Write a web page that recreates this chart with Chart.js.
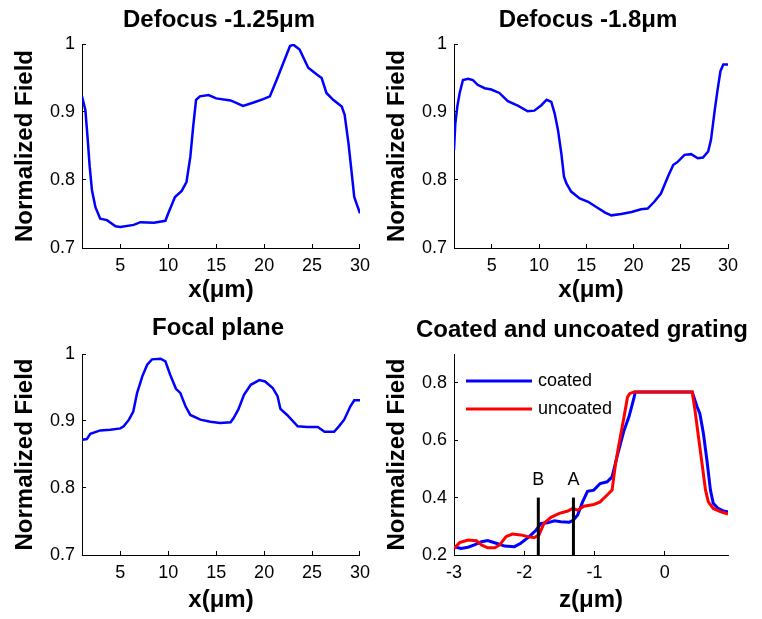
<!DOCTYPE html>
<html>
<head>
<meta charset="utf-8">
<script src="https://cdn.jsdelivr.net/npm/chart.js@4.4.1/dist/chart.umd.min.js"></script>
<style>
  body { margin: 0; background: #fff; }
  #wrap { position: relative; width: 762px; height: 619px; }
  canvas { position: absolute; }
</style>
</head>
<body>
<div id="wrap">
  <canvas id="c1" width="381" height="310" style="left:0;top:0"></canvas>
  <canvas id="c2" width="381" height="310" style="left:381px;top:0"></canvas>
  <canvas id="c3" width="381" height="309" style="left:0;top:310px"></canvas>
  <canvas id="c4" width="381" height="309" style="left:381px;top:310px"></canvas>
</div>
<script>
// Defocus -1.25um
const defocus125X = [1, 1.35, 1.6, 1.8, 2.04, 2.4, 2.9, 3.6, 4.5, 5, 6.4, 7.1, 8.5, 9.7, 10, 10.7, 11.4, 11.9, 12.3, 12.6, 12.9, 13.3, 14.2, 15, 16.5, 17.8, 18.9, 19.9, 20.6, 21.3, 22, 22.7, 23.05, 23.7, 24.6, 25.5, 26, 26.5, 27.2, 28.1, 28.4, 28.8, 29.1, 29.4, 29.65, 30];
const defocus125Y = [0.923, 0.903, 0.859, 0.82, 0.785, 0.76, 0.743, 0.741, 0.732, 0.731, 0.734, 0.738, 0.737, 0.74, 0.751, 0.775, 0.784, 0.797, 0.834, 0.879, 0.918, 0.923, 0.925, 0.92, 0.917, 0.909, 0.914, 0.919, 0.923, 0.947, 0.972, 0.997, 0.999, 0.992, 0.965, 0.955, 0.95, 0.928, 0.918, 0.908, 0.896, 0.854, 0.815, 0.775, 0.765, 0.751];

// Defocus -1.8um
const defocus18X = [1, 1.14, 1.35, 1.6, 1.95, 2.5, 3, 3.5, 4.25, 4.95, 5.8, 6.7, 7.8, 8.8, 9.5, 10.25, 10.8, 11.3, 11.65, 12, 12.36, 12.64, 12.9, 13.4, 14.3, 15.2, 16.1, 17, 17.65, 18.7, 19.8, 20.8, 21.5, 22.2, 22.9, 23.65, 24.2, 24.7, 25.4, 26.1, 26.8, 27.35, 27.9, 28.2, 28.6, 28.9, 29.2, 29.5, 30];
const defocus18Y = [0.844, 0.883, 0.908, 0.928, 0.947, 0.949, 0.947, 0.94, 0.935, 0.933, 0.928, 0.916, 0.909, 0.901, 0.902, 0.91, 0.918, 0.915, 0.898, 0.874, 0.839, 0.805, 0.795, 0.783, 0.773, 0.768, 0.76, 0.752, 0.748, 0.75, 0.753, 0.757, 0.758, 0.768, 0.78, 0.805, 0.822, 0.827, 0.837, 0.838, 0.832, 0.833, 0.842, 0.859, 0.903, 0.933, 0.96, 0.97, 0.97];

// Focal plane
const focalX = [1, 1.5, 1.87, 2.9, 3.95, 5, 5.35, 5.9, 6.35, 6.75, 7.3, 7.8, 8.3, 9.2, 9.7, 10.2, 10.8, 11.25, 11.8, 12.3, 13.35, 14.4, 15.4, 16.5, 16.8, 17.3, 17.9, 18.6, 19.5, 20.1, 20.9, 21.4, 21.7, 22.4, 23.5, 24.5, 25.6, 26.3, 27.3, 27.8, 28.35, 29, 29.4, 30];
const focalY = [0.872, 0.873, 0.881, 0.886, 0.887, 0.889, 0.892, 0.902, 0.914, 0.942, 0.967, 0.984, 0.992, 0.993, 0.989, 0.969, 0.948, 0.942, 0.922, 0.909, 0.902, 0.899, 0.897, 0.898, 0.904, 0.917, 0.939, 0.954, 0.961, 0.959, 0.949, 0.937, 0.918, 0.909, 0.892, 0.891, 0.891, 0.884, 0.884, 0.892, 0.902, 0.922, 0.931, 0.931];

// Coated and uncoated grating
const coatedZ = [-3, -2.9, -2.8, -2.71, -2.61, -2.52, -2.4, -2.28, -2.14, -2.05, -1.93, -1.83, -1.76, -1.67, -1.57, -1.48, -1.36, -1.3, -1.24, -1.17, -1.1, -1.01, -0.92, -0.82, -0.75, -0.68, -0.58, -0.51, -0.44, -0.42, 0.39, 0.46, 0.5, 0.55, 0.6, 0.65, 0.69, 0.76, 0.84, 0.9];
const coatedY = [0.229, 0.223, 0.227, 0.235, 0.246, 0.25, 0.241, 0.231, 0.229, 0.241, 0.264, 0.287, 0.31, 0.312, 0.319, 0.316, 0.314, 0.322, 0.339, 0.385, 0.422, 0.426, 0.449, 0.455, 0.472, 0.542, 0.634, 0.681, 0.745, 0.768, 0.768, 0.716, 0.692, 0.623, 0.53, 0.426, 0.38, 0.362, 0.353, 0.351];
const uncoatedZ = [-3, -2.92, -2.8, -2.68, -2.61, -2.52, -2.42, -2.35, -2.26, -2.17, -2.05, -1.95, -1.86, -1.79, -1.72, -1.62, -1.5, -1.38, -1.31, -1.24, -1.15, -1.01, -0.92, -0.82, -0.75, -0.7, -0.65, -0.58, -0.53, -0.5, -0.44, 0.39, 0.43, 0.48, 0.53, 0.58, 0.62, 0.69, 0.79, 0.9];
const uncoatedY = [0.223, 0.243, 0.252, 0.25, 0.235, 0.225, 0.225, 0.235, 0.264, 0.273, 0.27, 0.264, 0.26, 0.27, 0.31, 0.331, 0.345, 0.353, 0.362, 0.356, 0.37, 0.376, 0.385, 0.409, 0.426, 0.519, 0.588, 0.681, 0.75, 0.762, 0.768, 0.768, 0.704, 0.611, 0.519, 0.426, 0.385, 0.362, 0.351, 0.343];

// Marker lines A and B
const markerZ = [-1.8, -1.3];
const markerNames = ['B', 'A'];
const markerRange = [0.2, 0.4];
const markerTextY = 0.46;
const legendNames = ['coated', 'uncoated'];

const FONT = 'Arial, "Liberation Sans", Helvetica, sans-serif';
Chart.defaults.font.family = FONT;
Chart.defaults.color = '#000';

function toPoints(xs, ys) {
    return xs.map((x, i) => ({ x: x, y: ys[i] }));
}

function tickText(v) {
    return String(parseFloat(v.toFixed(2)));
}

// Panel title, centred over the plot area (may run past it on the right)
const panelTitlePlugin = {
    id: 'panelTitle',
    afterDraw(chart, args, opts) {
        const area = chart.chartArea;
        const ctx = chart.ctx;
        ctx.save();
        ctx.font = 'bold 24px ' + FONT;
        ctx.fillStyle = '#000';
        ctx.textAlign = 'center';
        ctx.textBaseline = 'alphabetic';
        ctx.fillText(opts.text, (area.left + area.right) / 2 + opts.dx, opts.baseline);
        ctx.restore();
    }
};

// Legend and A/B labels drawn inside the grating plot
const insideTextPlugin = {
    id: 'insideText',
    afterDatasetsDraw(chart, args, opts) {
        if (!opts.show) return;
        const area = chart.chartArea;
        const ctx = chart.ctx;
        const xs = chart.scales.x;
        const ys = chart.scales.y;
        ctx.save();
        ctx.font = '18px ' + FONT;
        ctx.fillStyle = '#000';
        ctx.textBaseline = 'middle';
        ctx.textAlign = 'center';
        markerZ.forEach((z, i) => {
            ctx.fillText(markerNames[i], xs.getPixelForValue(z), ys.getPixelForValue(markerTextY));
        });
        ctx.textAlign = 'left';
        legendNames.forEach((name, i) => {
            const ds = chart.data.datasets.find(d => d.label === name);
            const ly = area.top + 27 + i * 28;
            ctx.strokeStyle = ds.borderColor;
            ctx.lineWidth = 3;
            ctx.beginPath();
            ctx.moveTo(area.left + 12, ly);
            ctx.lineTo(area.left + 78, ly);
            ctx.stroke();
            ctx.fillText(name, area.left + 84, ly);
        });
        ctx.restore();
    }
};

function makePanel(id, datasets, cfg) {
    const ctx = document.getElementById(id).getContext('2d');
    return new Chart(ctx, {
        type: 'line',
        data: { datasets: datasets },
        plugins: [panelTitlePlugin, insideTextPlugin],
        options: {
            responsive: false,
            animation: false,
            layout: { padding: { left: 0, right: cfg.padRight, top: 44, bottom: 0 } },
            elements: { point: { radius: 0 }, line: { tension: 0 } },
            plugins: {
                legend: { display: false },
                tooltip: { enabled: false },
                title: { display: false },
                panelTitle: { text: cfg.title, dx: cfg.titleDx, baseline: cfg.titleBase },
                insideText: { show: !!cfg.inside }
            },
            scales: {
                x: {
                    type: 'linear',
                    min: cfg.xMin,
                    max: cfg.xMax,
                    afterFit: s => { s.height = cfg.xHeight; },
                    border: { display: true, color: '#000', width: 1 },
                    grid: { display: true, drawOnChartArea: false, drawTicks: true, tickLength: -4, color: '#000' },
                    ticks: {
                        stepSize: cfg.xStep, includeBounds: false, padding: 11,
                        maxRotation: 0, autoSkip: false, color: '#000',
                        font: { size: 18 }, callback: tickText
                    },
                    title: {
                        display: true, text: cfg.xLabel, color: '#000',
                        font: { size: 24, weight: 'bold' },
                        padding: { top: 0, bottom: cfg.xTitleBottom }
                    }
                },
                y: {
                    type: 'linear',
                    min: cfg.yMin,
                    max: cfg.yMax,
                    afterFit: s => { s.width = cfg.yWidth; },
                    border: { display: true, color: '#000', width: 1 },
                    grid: { display: true, drawOnChartArea: false, drawTicks: true, tickLength: -4, color: '#000' },
                    ticks: {
                        stepSize: cfg.yStep, includeBounds: false, padding: 11,
                        color: '#000', font: { size: 18 }, callback: tickText
                    },
                    title: {
                        display: true, text: 'Normalized Field', color: '#000',
                        font: { size: 24, weight: 'bold' },
                        padding: { top: cfg.yTitleTop, bottom: 0 }
                    }
                }
            }
        }
    });
}

function blueLine(xs, ys) {
    return { data: toPoints(xs, ys), borderColor: '#0000ff', borderWidth: 2.5, fill: false };
}

makePanel('c1', [blueLine(defocus125X, defocus125Y)], {
    title: 'Defocus -1.25μm', titleDx: -2, titleBase: 27, xLabel: 'x(μm)',
    xMin: 1, xMax: 30, xStep: 5, yMin: 0.7, yMax: 1, yStep: 0.1,
    yWidth: 82, xHeight: 62, padRight: 21, yTitleTop: 10.6, xTitleBottom: 5.6
});

makePanel('c2', [blueLine(defocus18X, defocus18Y)], {
    title: 'Defocus -1.8μm', titleDx: -3, titleBase: 27, xLabel: 'x(μm)',
    xMin: 1, xMax: 30, xStep: 5, yMin: 0.7, yMax: 1, yStep: 0.1,
    yWidth: 73, xHeight: 62, padRight: 34, yTitleTop: 2.3, xTitleBottom: 5.6
});

makePanel('c3', [blueLine(focalX, focalY)], {
    title: 'Focal plane', titleDx: -3, titleBase: 25, xLabel: 'x(μm)',
    xMin: 1, xMax: 30, xStep: 5, yMin: 0.7, yMax: 1, yStep: 0.1,
    yWidth: 82, xHeight: 64, padRight: 21, yTitleTop: 10.6, xTitleBottom: 3.9
});

// marker lines first so they are drawn on top
const gratingSets = markerZ.map((z, i) => ({
    label: markerNames[i],
    data: markerRange.map(v => ({ x: z, y: v })),
    borderColor: '#000', borderWidth: 3, fill: false
}));
gratingSets.push({ label: 'uncoated', data: toPoints(uncoatedZ, uncoatedY), borderColor: '#ff0000', borderWidth: 3, fill: false });
gratingSets.push({ label: 'coated', data: toPoints(coatedZ, coatedY), borderColor: '#0000ff', borderWidth: 3, fill: false });

makePanel('c4', gratingSets, {
    title: 'Coated and uncoated grating', titleDx: -9, titleBase: 27, xLabel: 'z(μm)', inside: true,
    xMin: -3, xMax: 0.9, xStep: 1, yMin: 0.2, yMax: 0.9, yStep: 0.2,
    yWidth: 73, xHeight: 64, padRight: 34, yTitleTop: 2.3, xTitleBottom: 3.9
});
</script>
</body>
</html>
